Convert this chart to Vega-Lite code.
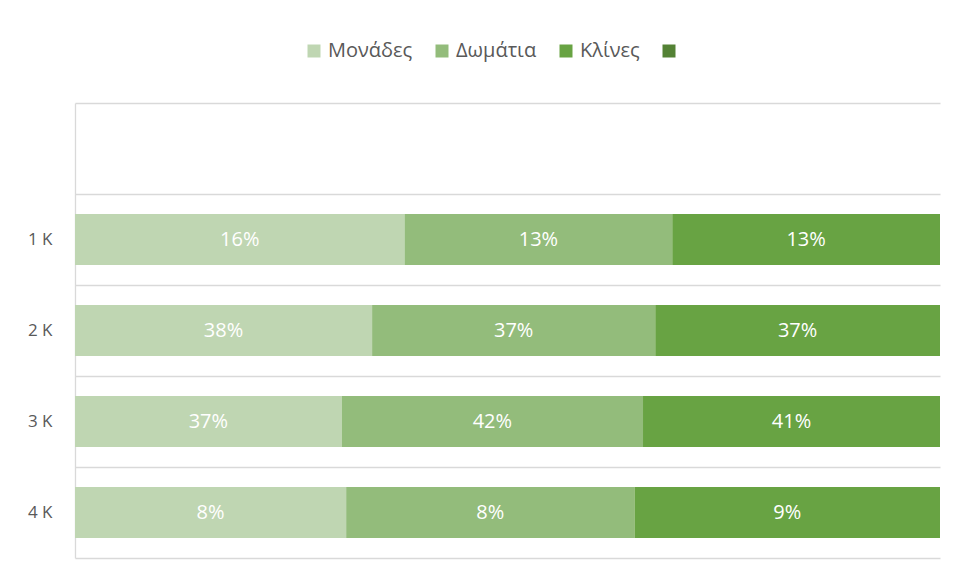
{
  "$schema": "https://vega.github.io/schema/vega-lite/v6.json",
  "width": 865,
  "height": 455,
  "autosize": {"type": "none"},
  "padding": {"left": 75, "top": 103, "right": 16, "bottom": 22},
  "background": "white",
  "config": {"view": {"stroke": null}, "font": "Open Sans"},
  "data": {
    "values": [
      {"cat": "1 K", "series": "Μονάδες", "o": 1, "value": 0.16},
      {"cat": "1 K", "series": "Δωμάτια", "o": 2, "value": 0.13},
      {"cat": "1 K", "series": "Κλίνες", "o": 3, "value": 0.13},
      {"cat": "2 K", "series": "Μονάδες", "o": 1, "value": 0.384},
      {"cat": "2 K", "series": "Δωμάτια", "o": 2, "value": 0.366},
      {"cat": "2 K", "series": "Κλίνες", "o": 3, "value": 0.368},
      {"cat": "3 K", "series": "Μονάδες", "o": 1, "value": 0.37},
      {"cat": "3 K", "series": "Δωμάτια", "o": 2, "value": 0.418},
      {"cat": "3 K", "series": "Κλίνες", "o": 3, "value": 0.412},
      {"cat": "4 K", "series": "Μονάδες", "o": 1, "value": 0.079},
      {"cat": "4 K", "series": "Δωμάτια", "o": 2, "value": 0.084},
      {"cat": "4 K", "series": "Κλίνες", "o": 3, "value": 0.089}
    ]
  },
  "encoding": {
    "y": {
      "field": "cat",
      "type": "nominal",
      "scale": {"domain": [" ", "1 K", "2 K", "3 K", "4 K"], "paddingInner": 0, "paddingOuter": 0},
      "axis": {
        "title": null,
        "ticks": false,
        "tickBand": "extent",
        "grid": true,
        "gridColor": "#d9d9d9",
        "gridWidth": 1.3,
        "domainColor": "#d9d9d9",
        "domainWidth": 1.3,
        "labelFontSize": 17,
        "labelColor": "#595959",
        "labelPadding": 23
      }
    }
  },
  "layer": [
    {
      "mark": {"type": "bar", "height": {"band": 0.56}},
      "encoding": {
        "x": {"field": "value", "type": "quantitative", "stack": "normalize", "axis": null},
        "color": {
          "field": "series",
          "type": "nominal",
          "scale": {
            "domain": ["Μονάδες", "Δωμάτια", "Κλίνες", " "],
            "range": ["#bfd6b2", "#93bc7b", "#68a343", "#548235"]
          },
          "legend": {
            "title": null,
            "orient": "none",
            "legendX": 229,
            "legendY": -62,
            "direction": "horizontal",
            "symbolType": "square",
            "symbolSize": 169,
            "symbolStrokeWidth": 0,
            "symbolOpacity": 1,
            "labelFontSize": 20,
            "labelColor": "#595959",
            "labelOffset": 4,
            "columnPadding": 19
          }
        },
        "order": {"field": "o", "type": "quantitative"}
      }
    },
    {
      "mark": {"type": "text", "color": "white", "fontSize": 20, "baseline": "middle", "align": "center"},
      "encoding": {
        "x": {"field": "value", "type": "quantitative", "stack": "normalize", "bandPosition": 0.5},
        "text": {"field": "value", "type": "quantitative", "format": ".0%"},
        "order": {"field": "o", "type": "quantitative"}
      }
    }
  ]
}
